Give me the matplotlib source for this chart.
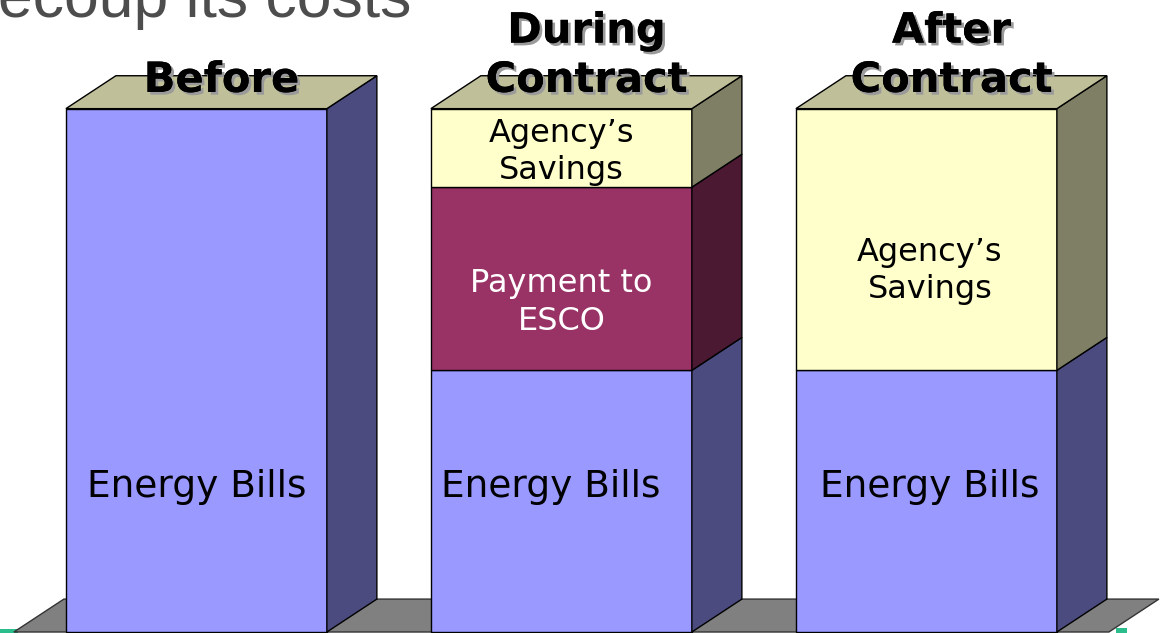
import matplotlib.pyplot as plt
from matplotlib.patches import Polygon
import matplotlib.patheffects as pe

# bar categories and stacked values (percent of original energy bill)
headers = ['Before', 'During\nContract', 'After\nContract']
energy = [100, 50, 50]
payment = [0, 35, 0]
savings = [0, 15, 50]

seg_names = ['Energy Bills', 'Payment to\nESCO', 'Agency\u2019s\nSavings']
front_col = ['#9999FF', '#993366', '#FFFFCC']
side_col = ['#4B4B7F', '#4C1933', '#7F7F66']
top_col = '#BFBF99'
floor_col = '#808080'

W = 0.715      # bar width (category units)
DX = 0.137     # depth offset x
DY = 6.29      # depth offset y

fig = plt.figure(figsize=(11.6, 6.33), dpi=100)
ax = fig.add_axes([0, 0, 1, 1])
ax.set_xlim(-0.538, 2.64)
ax.set_ylim(-0.19, 120.76)
ax.axis('off')

# green decoration strips at very bottom
ax.add_patch(Polygon([(-0.6, -0.19), (-0.49, -0.19), (-0.49, 0.6), (-0.6, 0.6)],
                     closed=True, fc='#2BBE8C', ec='none', zorder=0))
ax.add_patch(Polygon([(2.52, -0.19), (2.55, -0.19), (2.55, 0.8), (2.52, 0.8)],
                     closed=True, fc='#2BBE8C', ec='none', zorder=0))

# floor
ax.add_patch(Polygon([(-0.5, 0), (-0.5 + DX, DY), (2.5 + DX, DY), (2.5, 0)],
                     closed=True, fc=floor_col, ec='#333333', lw=1, zorder=1))

for i in range(3):
    vals = [energy[i], payment[i], savings[i]]
    x0 = i - W / 2
    x1 = i + W / 2
    b = 0
    for k, v in enumerate(vals):
        if v == 0:
            continue
        ax.add_patch(Polygon([(x0, b), (x1, b), (x1, b + v), (x0, b + v)],
                             closed=True, fc=front_col[k], ec='black', lw=1, zorder=2))
        ax.add_patch(Polygon([(x1, b), (x1 + DX, b + DY), (x1 + DX, b + v + DY), (x1, b + v)],
                             closed=True, fc=side_col[k], ec='black', lw=1, zorder=2))
        b += v
    ax.add_patch(Polygon([(x0, b), (x0 + DX, b + DY), (x1 + DX, b + DY), (x1, b)],
                         closed=True, fc=top_col, ec='black', lw=1, zorder=2))

# segment labels
lab_fs = 27
ax.text(0, 27.8, seg_names[0], ha='center', va='center', fontsize=lab_fs, zorder=3)
ax.text(1 - 0.03, 27.8, seg_names[0], ha='center', va='center', fontsize=lab_fs, zorder=3)
ax.text(2 + 0.01, 27.8, seg_names[0], ha='center', va='center', fontsize=lab_fs, zorder=3)
ax.text(1, 63.0, seg_names[1], ha='center', va='center', fontsize=23, color='white',
        linespacing=1.28, zorder=3)
ax.text(1, 91.7, seg_names[2], ha='center', va='center', fontsize=23,
        linespacing=1.25, zorder=3)
ax.text(2 + 0.01, 69.0, seg_names[2], ha='center', va='center', fontsize=23,
        linespacing=1.25, zorder=3)

# headers with shadow
shadow = [pe.withSimplePatchShadow(offset=(2, -2), shadow_rgbFace='#9A9A9A', alpha=1),
          pe.Normal()]
for i, h in enumerate(headers):
    ax.text(i + DX / 2, 103.2, h, ha='center', va='baseline', fontsize=30,
            fontweight='bold', linespacing=1.22, zorder=4, path_effects=shadow)

fig.text(-0.002, 1 - 17 / 633, 'ecoup its costs', ha='left', va='baseline',
         fontsize=45, color='#4D4D4D', family='Liberation Sans')

fig.savefig('out.png', dpi=100)
